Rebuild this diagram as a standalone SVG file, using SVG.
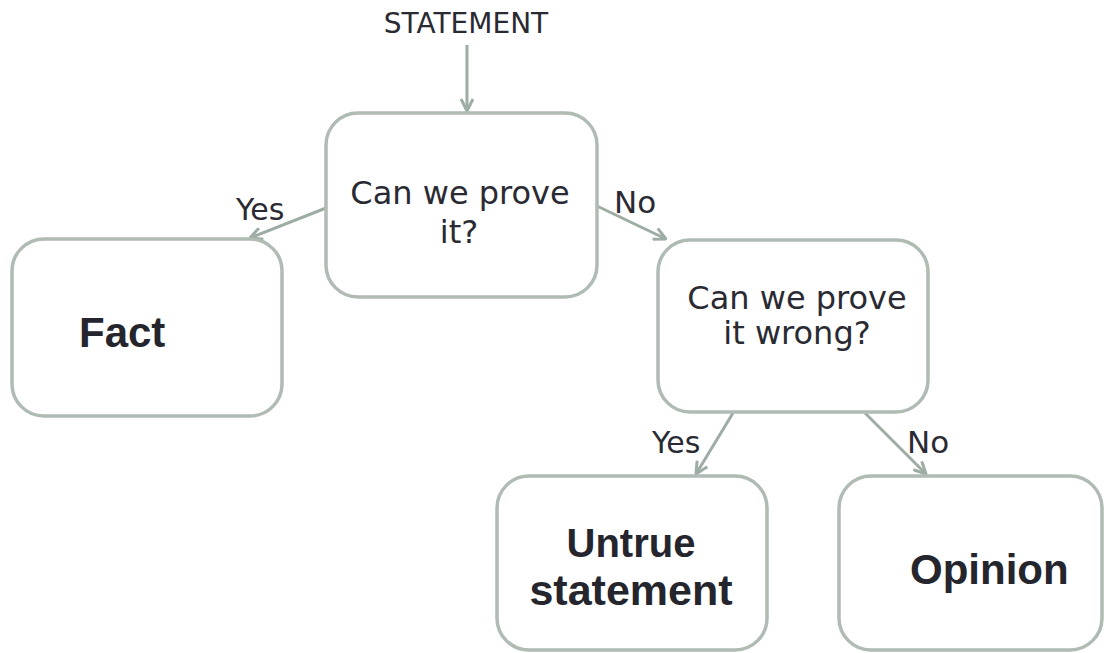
<svg xmlns="http://www.w3.org/2000/svg" width="1104" height="653" viewBox="0 0 1104 653">
  <style>
    .box { fill: #ffffff; stroke: #b0bbb4; stroke-width: 3.5; }
    .edge { fill: none; stroke: #9dada4; stroke-width: 3; }
    .lbl { font-family: "DejaVu Sans", sans-serif; fill: #2a2a33; }
    .big { font-family: "Liberation Sans", Arial, sans-serif; font-weight: bold; fill: #25252e; }
  </style>
  <defs>
    <marker id="arr" viewBox="0 0 14 14" refX="13" refY="7" markerWidth="14" markerHeight="14" markerUnits="userSpaceOnUse" orient="auto">
      <path d="M1,1 L13,7 L1,13" fill="none" stroke="#9dada4" stroke-width="3"/>
    </marker>
  </defs>
  <rect width="1104" height="653" fill="#ffffff"/>

  <g id="statement">
    <text class="lbl" x="466" y="33" font-size="28" text-anchor="middle">STATEMENT</text>
  </g>

  <g id="connectors">
    <line class="edge" x1="467" y1="45" x2="467" y2="111" marker-end="url(#arr)"/>
    <line class="edge" x1="326" y1="208" x2="250" y2="238" marker-end="url(#arr)"/>
    <line class="edge" x1="597" y1="206" x2="666" y2="239" marker-end="url(#arr)"/>
    <line class="edge" x1="733" y1="413" x2="696" y2="474" marker-end="url(#arr)"/>
    <line class="edge" x1="865" y1="413" x2="926" y2="474" marker-end="url(#arr)"/>
    <text class="lbl" x="236" y="220" font-size="30">Yes</text>
    <text class="lbl" x="614" y="213" font-size="31">No</text>
    <text class="lbl" x="652" y="453" font-size="30">Yes</text>
    <text class="lbl" x="907" y="453" font-size="31">No</text>
  </g>

  <g id="q1">
    <rect class="box" x="326" y="113" width="271" height="184" rx="32"/>
    <text class="lbl" x="460" y="204" font-size="32" text-anchor="middle">Can we prove</text>
    <text class="lbl" x="459" y="243" font-size="32" text-anchor="middle">it?</text>
  </g>

  <g id="fact">
    <rect class="box" x="12" y="239" width="270" height="177" rx="32"/>
    <text class="big" x="79" y="347" font-size="42">Fact</text>
  </g>

  <g id="q2">
    <rect class="box" x="658" y="240" width="270" height="172" rx="32"/>
    <text class="lbl" x="797" y="309" font-size="32" text-anchor="middle">Can we prove</text>
    <text class="lbl" x="797" y="344" font-size="32" text-anchor="middle">it wrong?</text>
  </g>

  <g id="untrue">
    <rect class="box" x="497" y="476" width="270" height="174" rx="32"/>
    <text class="big" x="631" y="557" font-size="40" text-anchor="middle">Untrue</text>
    <text class="big" x="631" y="605" font-size="43" text-anchor="middle">statement</text>
  </g>

  <g id="opinion">
    <rect class="box" x="839" y="476" width="263" height="174" rx="32"/>
    <text class="big" x="910" y="584" font-size="42">Opinion</text>
  </g>
</svg>
